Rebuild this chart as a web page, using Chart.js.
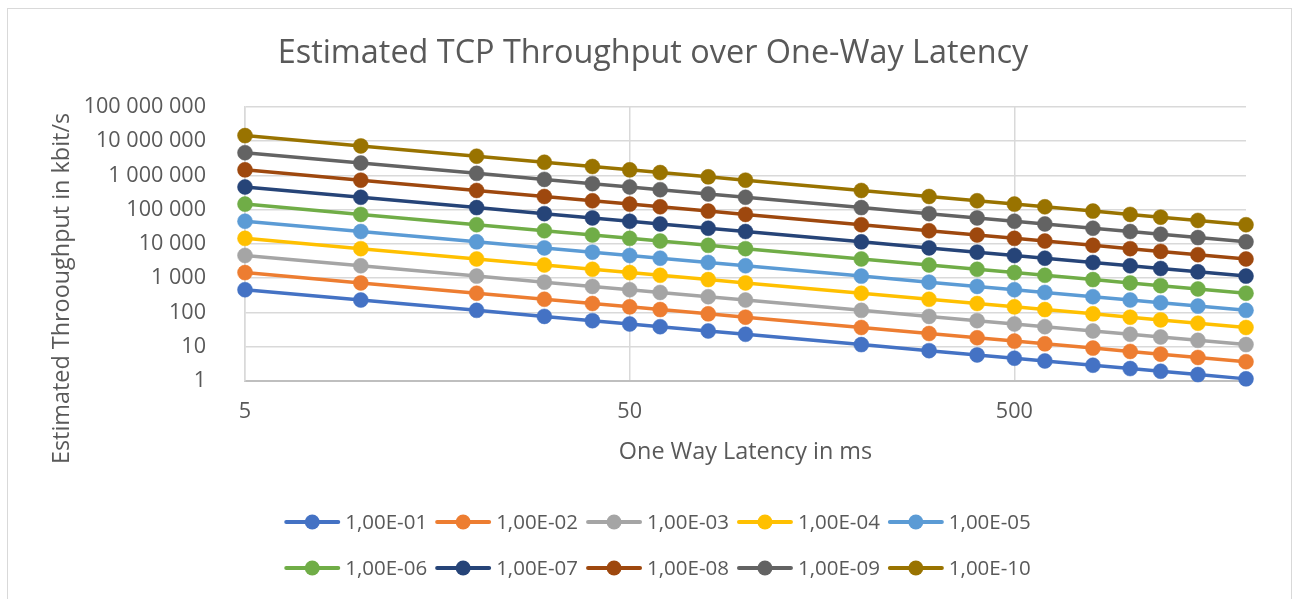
<!DOCTYPE html>
<html>
<head>
<meta charset="utf-8">
<script src="https://cdn.jsdelivr.net/npm/chart.js@4.4.1/dist/chart.umd.min.js"></script>
<style>
  html, body { margin: 0; padding: 0; background: #ffffff; overflow: hidden; }
  #wrap { position: relative; width: 1300px; height: 599px; }
  #frame { position: absolute; left: 7px; top: 8px; width: 1285px; height: 620px; border: 1.5px solid #D9D9D9; box-sizing: border-box; pointer-events: none; }
  canvas { position: absolute; left: 0; top: 0; }
</style>
</head>
<body>
<div id="wrap">
  <canvas id="c" width="1300" height="599"></canvas>
  <div id="frame"></div>
</div>
<script>
// ---- data ----
const latencies = [5, 10, 20, 30, 40, 50, 60, 80, 100, 200, 300, 400, 500, 600, 800, 1000, 1200, 1500, 2000];

const seriesNames = ['1,00E-01', '1,00E-02', '1,00E-03', '1,00E-04', '1,00E-05',
                     '1,00E-06', '1,00E-07', '1,00E-08', '1,00E-09', '1,00E-10'];

const loss1e01 = [461.7, 230.9, 115.4, 76.95, 57.71, 46.17, 38.48, 28.86, 23.09, 11.54, 7.695, 5.771, 4.617, 3.848, 2.886, 2.309, 1.924, 1.539, 1.154];
const loss1e02 = [1460, 730, 365, 243.3, 182.5, 146, 121.7, 91.25, 73, 36.5, 24.33, 18.25, 14.6, 12.17, 9.125, 7.3, 6.083, 4.867, 3.65];
const loss1e03 = [4617, 2309, 1154, 769.5, 577.1, 461.7, 384.8, 288.6, 230.9, 115.4, 76.95, 57.71, 46.17, 38.48, 28.86, 23.09, 19.24, 15.39, 11.54];
const loss1e04 = [14600, 7300, 3650, 2433, 1825, 1460, 1217, 912.5, 730, 365, 243.3, 182.5, 146, 121.7, 91.25, 73, 60.83, 48.67, 36.5];
const loss1e05 = [46170, 23090, 11540, 7695, 5771, 4617, 3848, 2886, 2309, 1154, 769.5, 577.1, 461.7, 384.8, 288.6, 230.9, 192.4, 153.9, 115.4];
const loss1e06 = [146000, 73000, 36500, 24330, 18250, 14600, 12170, 9125, 7300, 3650, 2433, 1825, 1460, 1217, 912.5, 730, 608.3, 486.7, 365];
const loss1e07 = [461700, 230900, 115400, 76950, 57710, 46170, 38480, 28860, 23090, 11540, 7695, 5771, 4617, 3848, 2886, 2309, 1924, 1539, 1154];
const loss1e08 = [1460000, 730000, 365000, 243300, 182500, 146000, 121700, 91250, 73000, 36500, 24330, 18250, 14600, 12170, 9125, 7300, 6083, 4867, 3650];
const loss1e09 = [4617000, 2309000, 1154000, 769500, 577100, 461700, 384800, 288600, 230900, 115400, 76950, 57710, 46170, 38480, 28860, 23090, 19240, 15390, 11540];
const loss1e10 = [14600000, 7300000, 3650000, 2433000, 1825000, 1460000, 1217000, 912500, 730000, 365000, 243300, 182500, 146000, 121700, 91250, 73000, 60830, 48670, 36500];

const xTicks = [5, 50, 500];
const xTickLabels = ['5', '50', '500'];
const yTicks = [1, 10, 100, 1000, 10000, 100000, 1000000, 10000000, 100000000];
const yTickLabels = ['1', '10', '100', '1 000', '10 000', '100 000', '1 000 000', '10 000 000', '100 000 000'];

const chartTitle = 'Estimated TCP Throughput over One-Way Latency';
const xTitle = 'One Way Latency in ms';
const yTitle = 'Estimated Throoughput in kbit/s';

const colors = ['#4472C4', '#ED7D31', '#A5A5A5', '#FFC000', '#5B9BD5',
                '#70AD47', '#264478', '#9E480E', '#636363', '#997300'];

const allSeries = [loss1e01, loss1e02, loss1e03, loss1e04, loss1e05,
                   loss1e06, loss1e07, loss1e08, loss1e09, loss1e10];

// ---- chart ----
const FONT = "'Open Sans', 'DejaVu Sans', sans-serif";
const TEXT = '#595959';
Chart.defaults.font.family = FONT;
Chart.defaults.color = TEXT;

const datasets = allSeries.map((vals, i) => ({
  label: seriesNames[i],
  data: vals.map((v, j) => ({ x: latencies[j], y: v })),
  borderColor: colors[i],
  backgroundColor: colors[i],
  pointBackgroundColor: colors[i],
  pointBorderColor: colors[i],
  borderWidth: 3.5,
  pointRadius: 7.5,
  pointBorderWidth: 0.5,
  pointHoverRadius: 7.5,
  tension: 0,
  clip: false
}));

// vertical axis title, centred like the spreadsheet does (plot + label band)
const yTitlePlugin = {
  id: 'yTitle',
  afterDraw(chart) {
    const ctx = chart.ctx;
    const xs = chart.scales.x;
    const cy = (chart.chartArea.top + xs.bottom) / 2;
    ctx.save();
    ctx.translate(62, cy);
    ctx.rotate(-Math.PI / 2);
    ctx.font = "23.4px " + FONT;
    ctx.fillStyle = TEXT;
    ctx.textAlign = 'center';
    ctx.textBaseline = 'middle';
    ctx.fillText(yTitle, 0, 0);
    ctx.restore();
  }
};

const legendRows = [[0, 1, 2, 3, 4], [5, 6, 7, 8, 9]];
const legendPlugin = {
  id: 'excelLegend',
  afterDraw(chart) {
    const ctx = chart.ctx;
    const rowY = [522, 568];
    const lineLen = 54, textGap = 6, itemGap = 9, centerX = 658;
    ctx.save();
    ctx.font = "20.5px " + FONT;
    ctx.textBaseline = 'middle';
    ctx.textAlign = 'left';
    legendRows.forEach((row, r) => {
      const widths = row.map(i => lineLen + textGap + ctx.measureText(seriesNames[i]).width);
      const total = widths.reduce((a, b) => a + b, 0) + itemGap * (row.length - 1);
      let x = centerX - total / 2;
      const y = rowY[r];
      row.forEach((i, k) => {
        ctx.strokeStyle = colors[i];
        ctx.lineWidth = 4;
        ctx.lineCap = 'round';
        ctx.beginPath();
        ctx.moveTo(x + 1, y);
        ctx.lineTo(x + lineLen - 1, y);
        ctx.stroke();
        ctx.fillStyle = colors[i];
        ctx.beginPath();
        ctx.arc(x + lineLen / 2, y, 7.5, 0, Math.PI * 2);
        ctx.fill();
        ctx.fillStyle = TEXT;
        ctx.fillText(seriesNames[i], x + lineLen + textGap, y + 1);
        x += widths[k] + itemGap;
      });
    });
    ctx.restore();
  }
};

new Chart(document.getElementById('c'), {
  type: 'line',
  data: { datasets },
  options: {
    responsive: false,
    animation: false,
    devicePixelRatio: 1,
    layout: { padding: { top: 17, left: 60, right: 54, bottom: 129 } },
    plugins: {
      legend: { display: false },
      tooltip: { enabled: false },
      title: {
        display: true,
        text: chartTitle,
        color: TEXT,
        font: { size: 32.4, weight: 'normal' },
        padding: { top: 17.6, bottom: 33.5 }
      }
    },
    scales: {
      x: {
        type: 'logarithmic',
        position: 'bottom',
        min: 5,
        max: 2000,
        bounds: 'data',
        afterBuildTicks(scale) { scale.ticks = xTicks.map(v => ({ value: v, major: false })); },
        afterFit(scale) { scale.height = 89; },
        ticks: {
          autoSkip: false,
          maxRotation: 0,
          padding: 18,
          color: TEXT,
          font: { size: 21.6 },
          callback: (v, idx) => xTickLabels[idx]
        },
        grid: { color: '#D9D9D9', lineWidth: 1.5, drawTicks: false },
        border: { display: true, color: '#BFBFBF', width: 2 },
        title: {
          display: true,
          text: xTitle,
          color: TEXT,
          font: { size: 23.4 },
          padding: { top: 0, bottom: 4 }
        }
      },
      y: {
        type: 'logarithmic',
        position: 'left',
        min: 1,
        max: 100000000,
        bounds: 'data',
        afterBuildTicks(scale) { scale.ticks = yTicks.map(v => ({ value: v, major: false })); },
        afterFit(scale) { scale.width = 185; },
        ticks: {
          autoSkip: false,
          padding: 39,
          color: TEXT,
          font: { size: 21.6 },
          callback: (v, idx) => yTickLabels[idx]
        },
        grid: { color: '#D9D9D9', lineWidth: 1.5, drawTicks: false },
        border: { display: true, color: '#D9D9D9', width: 1.5 },
        title: { display: false }
      }
    }
  },
  plugins: [yTitlePlugin, legendPlugin]
});
</script>
</body>
</html>
